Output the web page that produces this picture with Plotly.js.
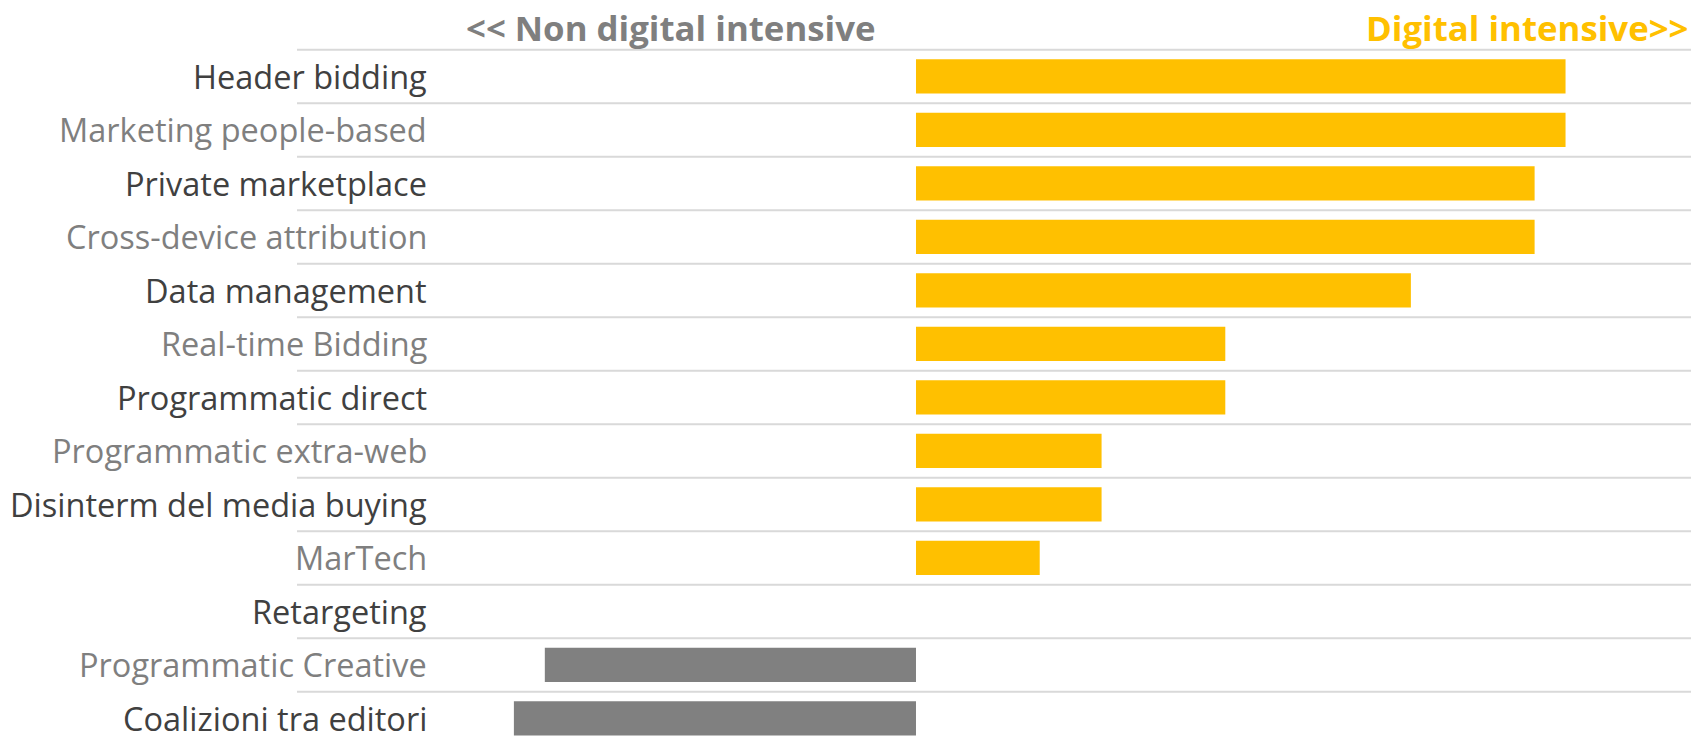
<!DOCTYPE html>
<html>
<head>
<meta charset="utf-8">
<script src="https://cdn.plot.ly/plotly-3.0.1.min.js"></script>
<style>
  html, body { margin: 0; padding: 0; background: #ffffff; }
  #chart { width: 1694px; height: 740px; }
</style>
</head>
<body>
<div id="chart"></div>
<script>
// Technologies, top to bottom
const categories = [
  "Header bidding",
  "Marketing people-based",
  "Private marketplace",
  "Cross-device attribution",
  "Data management",
  "Real-time Bidding",
  "Programmatic direct",
  "Programmatic extra-web",
  "Disinterm del media buying",
  "MarTech",
  "Retargeting",
  "Programmatic Creative",
  "Coalizioni tra editori"
];

// Positive = digital intensive, negative = non digital intensive
const values = [10.5, 10.5, 10, 10, 8, 5, 5, 3, 3, 2, 0, -6, -6.5];

const leftHeader = "<< Non digital intensive";
const rightHeader = "Digital intensive>>";

const YELLOW = "#FFC000";
const GREY_BAR = "#808080";
const DARK_TEXT = "#404040";
const GREY_TEXT = "#7f7f7f";
const GRID = "#d9d9d9";

const barColors = values.map(v => (v >= 0 ? YELLOW : GREY_BAR));

const trace = {
  type: "bar",
  orientation: "h",
  x: values,
  y: categories,
  marker: { color: barColors, line: { width: 0 } },
  hoverinfo: "y+x"
};

// Separator lines above every category row
const shapes = categories.map((c, i) => ({
  type: "line",
  xref: "paper", x0: 0, x1: 1,
  yref: "y", y0: i - 0.5, y1: i - 0.5,
  line: { color: GRID, width: 2 },
  layer: "below"
}));

// Row labels, alternating dark / grey
const labelAnnotations = categories.map((c, i) => ({
  xref: "x", x: -7.88,
  yref: "y", y: c,
  text: c,
  showarrow: false,
  xanchor: "right",
  yanchor: "middle",
  font: { family: "Open Sans, sans-serif", size: 32.5, color: i % 2 === 0 ? DARK_TEXT : GREY_TEXT }
}));

const headerAnnotations = [
  {
    xref: "x", x: -0.62,
    yref: "paper", y: 1.0179,
    text: "<b>" + leftHeader.replace(/</g, "&lt;") + "</b>",
    showarrow: false,
    xanchor: "right",
    yanchor: "middle",
    font: { family: "Open Sans, sans-serif", size: 34.8, color: "#7f7f7f" }
  },
  {
    xref: "paper", x: 1.0,
    yref: "paper", y: 1.0179,
    text: "<b>" + rightHeader.replace(/>/g, "&gt;") + "</b>",
    showarrow: false,
    xanchor: "right",
    yanchor: "middle",
    font: { family: "Open Sans, sans-serif", size: 34.8, color: YELLOW }
  }
];

const layout = {
  width: 1694,
  height: 740,
  margin: { l: 297, r: 3, t: 40, b: 0, pad: 0 },
  paper_bgcolor: "#ffffff",
  plot_bgcolor: "rgba(0,0,0,0)",
  showlegend: false,
  bargap: 0.36,
  xaxis: {
    range: [-10.006, 12.528],
    showgrid: false,
    zeroline: false,
    showticklabels: false,
    ticks: "",
    fixedrange: true
  },
  yaxis: {
    type: "category",
    categoryorder: "array",
    categoryarray: categories,
    range: [12.403, -0.681],
    showgrid: false,
    zeroline: false,
    showticklabels: false,
    ticks: "",
    fixedrange: true
  },
  shapes: shapes,
  annotations: labelAnnotations.concat(headerAnnotations)
};

Plotly.newPlot("chart", [trace], layout, { displayModeBar: false, staticPlot: true });
</script>
</body>
</html>
